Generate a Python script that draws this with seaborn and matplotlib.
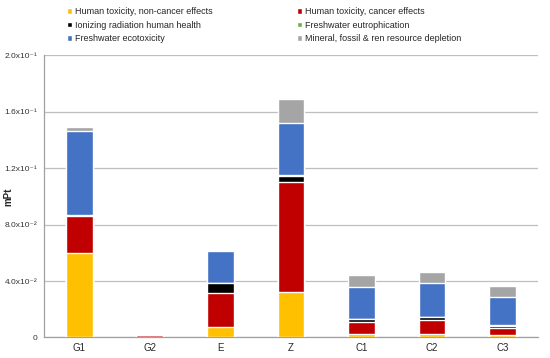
import numpy as np
import pandas as pd
import seaborn as sns
import matplotlib.pyplot as plt
from matplotlib.patches import Patch

# values (mPt)
scenarios = ['G1', 'G2', 'E', 'Z', 'C1', 'C2', 'C3']
non_cancer = [0.0598, 0.0002, 0.0077, 0.0322, 0.0025, 0.0025, 0.0016]
cancer = [0.0264, 0.0014, 0.0240, 0.0781, 0.0087, 0.0099, 0.0053]
ionizing = [0.0000, 0.0005, 0.0067, 0.0040, 0.0017, 0.0021, 0.0015]
eutrophication = [0.0007, 0.0000, 0.0005, 0.0006, 0.0002, 0.0002, 0.0002]
ecotoxicity = [0.0595, 0.0004, 0.0223, 0.0374, 0.0229, 0.0237, 0.0199]
depletion = [0.0028, 0.0001, 0.0000, 0.0170, 0.0080, 0.0080, 0.0080]

series_names = ['Human toxicity, non-cancer effects', 'Human toxicity, cancer effects',
                'Ionizing radiation human health', 'Freshwater eutrophication',
                'Freshwater ecotoxicity', 'Mineral, fossil & ren resource depletion']
colors = ['#FFC000', '#C00000', '#000000', '#70AD47', '#4472C4', '#A5A5A5']

df = pd.DataFrame({'scenario': scenarios})
cols = [non_cancer, cancer, ionizing, eutrophication, ecotoxicity, depletion]
for name, vals in zip(series_names, cols):
    df[name] = vals
cum = df[series_names].cumsum(axis=1)
cum['scenario'] = scenarios

sns.set_style('white')
plt.rcParams['font.family'] = ['Liberation Sans', 'DejaVu Sans']

fig = plt.figure(figsize=(5.5, 3.58), dpi=100)
ax = fig.add_axes([0.08, 0.0573, 0.898, 0.788])

# draw cumulative totals back to front so the layers look stacked
for name, col in reversed(list(zip(series_names, colors))):
    sns.barplot(data=cum, x='scenario', y=name, color=col, width=0.38,
                saturation=1, ax=ax, zorder=3)

ax.set_xlim(-0.5, len(scenarios) - 0.5)
ax.set_ylim(0, 0.2)
yt = [0, 0.04, 0.08, 0.12, 0.16, 0.2]
ylabels = ['0', '4.0x10\u207b\u00b2', '8.0x10\u207b\u00b2', '1.2x10\u207b\u00b9',
           '1.6x10\u207b\u00b9', '2.0x10\u207b\u00b9']
ax.set_yticks(yt)
ax.set_yticklabels(ylabels, fontsize=6, color='#333333')
ax.yaxis.grid(True, color='#BFBFBF', linewidth=0.9, zorder=0)
ax.set_axisbelow(True)
ax.set_ylabel('mPt', fontsize=7, fontweight='bold')
ax.yaxis.set_label_coords(-0.062, 0.5)
ax.set_xlabel('')
ax.tick_params(axis='x', which='major', length=0, labelsize=7, pad=4)
ax.set_xticks(np.arange(-0.5, len(scenarios)), minor=True)
ax.tick_params(axis='x', which='minor', length=3, color='#A0A0A0', direction='out')
ax.tick_params(axis='y', length=3, color='#A0A0A0', direction='out', pad=2)
for s in ['top', 'right']:
    ax.spines[s].set_visible(False)
for s in ['left', 'bottom']:
    ax.spines[s].set_color('#A0A0A0')
    ax.spines[s].set_linewidth(0.9)
ax.spines['bottom'].set_zorder(2)

handles = [Patch(facecolor=c, label=n) for n, c in zip(series_names, colors)]
order = [0, 2, 4, 1, 3, 5]
fig.legend([handles[i] for i in order], [series_names[i] for i in order],
           ncol=2, loc='upper left', bbox_to_anchor=(0.112, 0.995), frameon=False,
           fontsize=6.5, handlelength=0.6, handleheight=0.6, handletextpad=0.3,
           columnspacing=9.3, labelspacing=0.5, borderaxespad=0.2)

fig.savefig('out.png', dpi=100)
